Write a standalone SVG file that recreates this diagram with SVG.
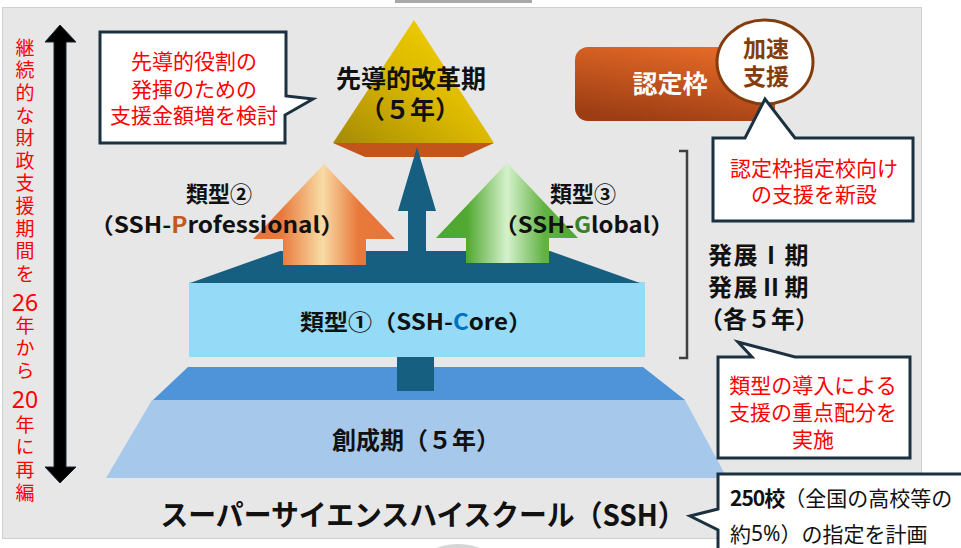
<svg xmlns="http://www.w3.org/2000/svg" width="961" height="548" viewBox="0 0 961 548">
<defs>
<style>
text { font-family: "Noto Sans CJK JP", "Noto Sans", sans-serif; dominant-baseline: central; }
.vt { fill:#ff0000; font-size:19px; writing-mode:vertical-rl; text-orientation:upright; letter-spacing:3.6px; }
.vd { fill:#ff0000; font-size:23px; text-anchor:middle; font-family:"Noto Sans", "Liberation Sans", sans-serif; }
.red { fill:#ff0000; font-size:21px; text-anchor:middle; }
.b { font-weight:700; fill:#111111; text-anchor:middle; }
.callout { fill:#ffffff; stroke:#1b3140; stroke-width:3; }
</style>
<linearGradient id="gOrange" x1="0" y1="0" x2="1" y2="0">
<stop offset="0" stop-color="#e8733a"/><stop offset="0.2" stop-color="#e9793b"/><stop offset="0.49" stop-color="#f8dca6"/><stop offset="0.74" stop-color="#e9793b"/><stop offset="1" stop-color="#e8733a"/>
</linearGradient>
<linearGradient id="gGreen" x1="0" y1="0" x2="1" y2="0">
<stop offset="0" stop-color="#4ea72e"/><stop offset="0.22" stop-color="#52a932"/><stop offset="0.5" stop-color="#d6f1cb"/><stop offset="0.76" stop-color="#62b343"/><stop offset="1" stop-color="#4ea72e"/>
</linearGradient>
<linearGradient id="gYellow" x1="0" y1="1" x2="1" y2="0">
<stop offset="0" stop-color="#a58a05"/><stop offset="0.5" stop-color="#dcb900"/><stop offset="1" stop-color="#f8d800"/>
</linearGradient>
<linearGradient id="gNintei" x1="0.3" y1="1" x2="0.7" y2="0">
<stop offset="0" stop-color="#9c3d14"/><stop offset="1" stop-color="#e66a27"/>
</linearGradient>
</defs>

<rect x="0" y="0" width="961" height="548" fill="#ffffff"/>
<rect x="395" y="0" width="137" height="3" fill="#a8a8a8"/>
<rect x="2.5" y="7.5" width="919" height="531" fill="#e7e7e7" stroke="#cfcfcf" stroke-width="1"/>
<path d="M436,548 Q458,540 480,548 Z" fill="#d6d6d6"/>

<g id="period-arrow">
<polygon points="60,25 76,42 66,42 66,467 76,467 60,483 45,467 54,467 54,42 45,42" fill="#000000" stroke="#1a2a36" stroke-width="1"/>
</g>
<g id="period-label">
<text class="vt" x="25" y="38">継続的な財政支援期間を</text>
<text class="vd" x="25" y="302">26</text>
<text class="vt" x="25" y="316">年から</text>
<text class="vd" x="25" y="399">20</text>
<text class="vt" x="25" y="415">年に再編</text>
</g>

<g id="sosei">
<polygon points="152,400 685,400 727,478 106,478" fill="#a6c9eb"/>
<polygon points="188,367 643,367 685,400 153,400" fill="#4f94d8"/>
<text class="b" x="416" y="438" font-size="24">創成期（５年）</text>
</g>

<g id="connectors">
<rect x="397" y="356" width="37" height="35" fill="#175f80"/>
</g>

<g id="core">
<rect x="189" y="282" width="456" height="75" fill="#95dbf7"/>
<polygon points="190,283 280,251 550,251 640,283" fill="#175f80"/>
<text class="b" x="416" y="320" font-size="22" textLength="232" lengthAdjust="spacingAndGlyphs">類型①（SSH-<tspan fill="#0070c0">C</tspan>ore）</text>
</g>

<g id="senkou">
<polygon points="414,20 494,143 333,143" fill="url(#gYellow)"/>
<polygon points="333,143 494,143 463,157 365,157" fill="#c4551a"/>
<text class="b" x="411" y="77" font-size="25">先導的改革期</text>
<text class="b" x="410" y="108" font-size="25">（５年）</text>
</g>

<g id="arrows">
<polygon points="324,164 395,239 366,239 366,265 283,265 283,239 253,239" fill="url(#gOrange)"/>
<polygon points="507,163 578,238 549,238 549,263 466,263 466,238 436,238" fill="url(#gGreen)"/>
<polygon points="417,147 436,211 426,211 426,258 408,258 408,211 398,211" fill="#175f80"/>
</g>

<g id="professional">
<text class="b" x="219" y="192" font-size="22">類型②</text>
<text class="b" x="217" y="223" font-size="22" textLength="255" lengthAdjust="spacingAndGlyphs">（SSH-<tspan fill="#c55a11">P</tspan>rofessional）</text>
</g>

<g id="global">
<text class="b" x="583" y="192" font-size="22">類型③</text>
<text class="b" x="584" y="223" font-size="22" textLength="180" lengthAdjust="spacingAndGlyphs">（SSH-<tspan fill="#38802a">G</tspan>lobal）</text>
</g>

<g id="hatten">
<path d="M679,151 H687 V358 H679" fill="none" stroke="#404040" stroke-width="2.5"/>
<text class="b" x="759" y="253" font-size="24" letter-spacing="1.5">発展Ⅰ期</text>
<text class="b" x="759" y="285" font-size="24" letter-spacing="1.5">発展Ⅱ期</text>
<text class="b" x="759" y="317" font-size="24">（各５年）</text>
</g>

<g id="nintei">
<rect x="575" y="47" width="200" height="74" rx="13" fill="url(#gNintei)"/>
<text class="b" x="670" y="82" font-size="25" style="fill:#ffffff">認定枠</text>
</g>

<g id="kasoku">
<ellipse cx="765" cy="62" rx="48" ry="42" fill="#ffffff" stroke="#843c0c" stroke-width="3"/>
<text class="b" x="766" y="47" font-size="23" style="fill:#843c0c">加速</text>
<text class="b" x="766" y="75" font-size="23" style="fill:#843c0c">支援</text>
</g>

<g id="callout-senkou">
<path class="callout" d="M100,32 H286 V96 L313,99 L285,115 V143 H100 Z"/>
<text class="red" x="194" y="60">先導的役割の</text>
<text class="red" x="194" y="88">発揮のための</text>
<text class="red" x="194" y="114">支援金額増を検討</text>
</g>

<g id="callout-nintei">
<path class="callout" d="M713,138 H745 L765,99 L795,138 H913 V221 H713 Z"/>
<text class="red" x="814" y="167">認定枠指定校向け</text>
<text class="red" x="814" y="193">の支援を新設</text>
</g>

<g id="callout-ruikei">
<path class="callout" d="M718,357 H752 L738,342 L795,357 H910 V458 H718 Z"/>
<text class="red" x="813" y="384">類型の導入による</text>
<text class="red" x="813" y="411">支援の重点配分を</text>
<text class="red" x="813" y="438">実施</text>
</g>

<g id="ssh-title">
<text class="b" x="423" y="513" font-size="29" textLength="525" lengthAdjust="spacingAndGlyphs">スーパーサイエンスハイスクール（SSH）</text>
</g>

<g id="callout-250">
<path class="callout" d="M718,474 H975 V560 H718 V530 L690,516 L718,509 Z"/>
<text x="730" y="497" font-size="21" fill="#111111"><tspan font-weight="700" letter-spacing="-1">250校</tspan>（全国の高校等の</text>
<text x="730" y="533" font-size="21" fill="#111111">約<tspan font-family="Noto Sans, sans-serif">5%</tspan>）の指定を計画</text>
</g>
</svg>
